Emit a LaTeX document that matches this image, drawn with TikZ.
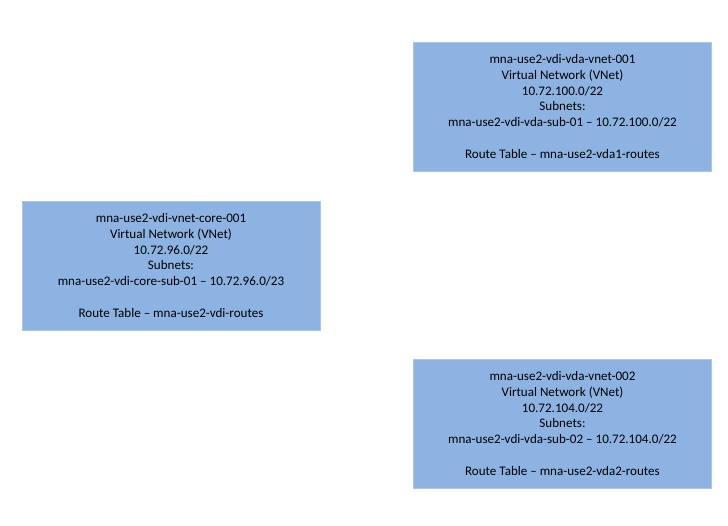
\documentclass[tikz,border=0pt]{standalone}
\usepackage{fontspec}
\setmainfont{Carlito}
\usepackage{tikz}

\definecolor{vnetblue}{HTML}{8DB3E2}
\definecolor{vnetedge}{HTML}{A9C6EA}

\begin{document}
\begin{tikzpicture}[x=0.75pt, y=-0.75pt,
	vnet/.style={draw=vnetedge, fill=vnetblue, inner sep=0pt,
		minimum width=223.5pt, minimum height=96.75pt,
		align=center, font=\fontsize{9.8}{11.8}\selectfont}]
	\useasboundingbox (0, 0) rectangle (728, 525);

	\node[vnet] (vda1) at (562.5, 106.5) {mna-use2-vdi-vda-vnet-001\\
		Virtual Network (VNet)\\
		10.72.100.0/22\\
		Subnets:\\
		mna-use2-vdi-vda-sub-01 -- 10.72.100.0/22\\
		~\\
		Route Table -- mna-use2-vda1-routes};

	\node[vnet] (core) at (171, 265.5) {mna-use2-vdi-vnet-core-001\\
		Virtual Network (VNet)\\
		10.72.96.0/22\\
		Subnets:\\
		mna-use2-vdi-core-sub-01 -- 10.72.96.0/23\\
		~\\
		Route Table -- mna-use2-vdi-routes};

	\node[vnet] (vda2) at (562.5, 423.5) {mna-use2-vdi-vda-vnet-002\\
		Virtual Network (VNet)\\
		10.72.104.0/22\\
		Subnets:\\
		mna-use2-vdi-vda-sub-02 -- 10.72.104.0/22\\
		~\\
		Route Table -- mna-use2-vda2-routes};
\end{tikzpicture}
\end{document}
